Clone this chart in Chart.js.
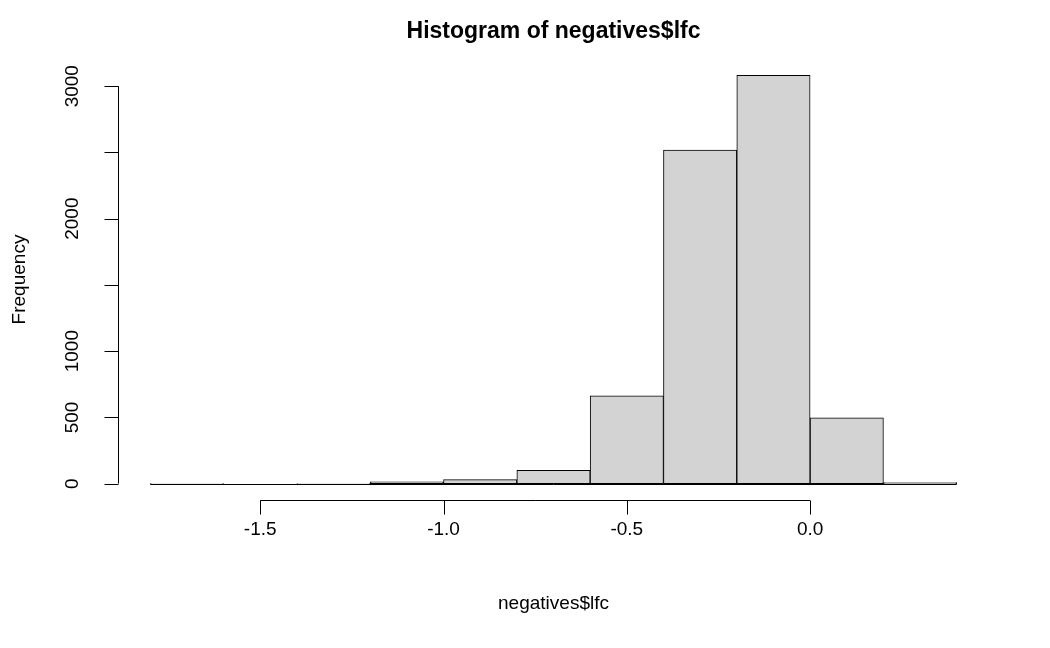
<!DOCTYPE html>
<html>
<head>
<meta charset="utf-8">
<script src="https://cdn.jsdelivr.net/npm/chart.js@4"></script>
<style>
  html, body { margin: 0; padding: 0; background: #fff; }
  #wrap { width: 1050px; height: 648px; }
</style>
</head>
<body>
<div id="wrap"><canvas id="hist" width="1050" height="648"></canvas></div>
<script>
// bin edges (0.2 wide) and counts
var binStarts = [-1.8, -1.6, -1.4, -1.2, -1.0, -0.8, -0.6, -0.4, -0.2, 0.0, 0.2];
var counts    = [1, 0, 1, 14, 30, 100, 663, 2517, 3082, 497, 8];
var binWidth  = 0.2;

// axis ticks, R style (some labels dropped where they would overlap)
var xTicks  = [-1.5, -1.0, -0.5, 0.0];
var xLabels = ['-1.5', '-1.0', '-0.5', '0.0'];
var yTicks  = [0, 500, 1000, 1500, 2000, 2500, 3000];
var yLabels = ['0', '500', '1000', '', '2000', '', '3000'];

var FONT = '"Liberation Sans", Arial, sans-serif';

var barData = binStarts.map(function (s, i) {
  return { x: s + binWidth / 2, y: counts[i] };
});

// draws the R-like axes, tick labels and titles from the chart's scales
var baseAxes = {
  id: 'baseAxes',
  afterDraw: function (chart) {
    var ctx = chart.ctx, xs = chart.scales.x, ys = chart.scales.y;
    var area = chart.chartArea;
    ctx.save();
    ctx.strokeStyle = '#000';
    ctx.fillStyle = '#000';
    ctx.lineWidth = 1;

    // baseline under the bars
    var y0 = Math.round(ys.getPixelForValue(0)) + 0.5;
    ctx.beginPath();
    ctx.moveTo(xs.getPixelForValue(binStarts[0]), y0);
    ctx.lineTo(xs.getPixelForValue(binStarts[binStarts.length - 1] + binWidth), y0);
    ctx.stroke();

    // x axis
    var xa = Math.round(area.bottom) + 0.5;
    ctx.beginPath();
    ctx.moveTo(xs.getPixelForValue(xTicks[0]), xa);
    ctx.lineTo(xs.getPixelForValue(xTicks[xTicks.length - 1]), xa);
    xTicks.forEach(function (t) {
      var p = Math.round(xs.getPixelForValue(t)) + 0.5;
      ctx.moveTo(p, xa);
      ctx.lineTo(p, xa + 14);
    });
    ctx.stroke();
    ctx.font = '19px ' + FONT;
    ctx.textAlign = 'center';
    ctx.textBaseline = 'middle';
    xTicks.forEach(function (t, i) {
      ctx.fillText(xLabels[i], xs.getPixelForValue(t), 530);
    });

    // y axis
    var ya = Math.round(area.left) + 0.5;
    ctx.beginPath();
    ctx.moveTo(ya, ys.getPixelForValue(yTicks[0]));
    ctx.lineTo(ya, ys.getPixelForValue(yTicks[yTicks.length - 1]));
    yTicks.forEach(function (t) {
      var p = Math.round(ys.getPixelForValue(t)) + 0.5;
      ctx.moveTo(ya, p);
      ctx.lineTo(ya - 14, p);
    });
    ctx.stroke();
    yTicks.forEach(function (t, i) {
      if (!yLabels[i]) return;
      ctx.save();
      ctx.translate(73, ys.getPixelForValue(t));
      ctx.rotate(-Math.PI / 2);
      ctx.fillText(yLabels[i], 0, 0);
      ctx.restore();
    });

    // titles
    ctx.fillText('negatives$lfc', (area.left + area.right) / 2, 604);
    ctx.save();
    ctx.translate(20, (area.top + area.bottom) / 2);
    ctx.rotate(-Math.PI / 2);
    ctx.fillText('Frequency', 0, 0);
    ctx.restore();
    ctx.font = 'bold 23px ' + FONT;
    ctx.fillText('Histogram of negatives$lfc', (area.left + area.right) / 2, 32);
    ctx.restore();
  }
};

new Chart(document.getElementById('hist'), {
  type: 'bar',
  data: {
    datasets: [{
      data: barData,
      backgroundColor: '#d3d3d3',
      borderColor: '#000',
      borderWidth: 1,
      borderSkipped: false,
      barPercentage: 1,
      categoryPercentage: 1
    }]
  },
  options: {
    responsive: false,
    animation: false,
    layout: { padding: { left: 118, right: 61, top: 59, bottom: 148 } },
    scales: {
      x: { type: 'linear', min: -1.888, max: 0.488, offset: false, display: false },
      y: { min: -123.3, max: 3205.3, display: false }
    },
    plugins: { legend: { display: false }, tooltip: { enabled: false } }
  },
  plugins: [baseAxes]
});
</script>
</body>
</html>
